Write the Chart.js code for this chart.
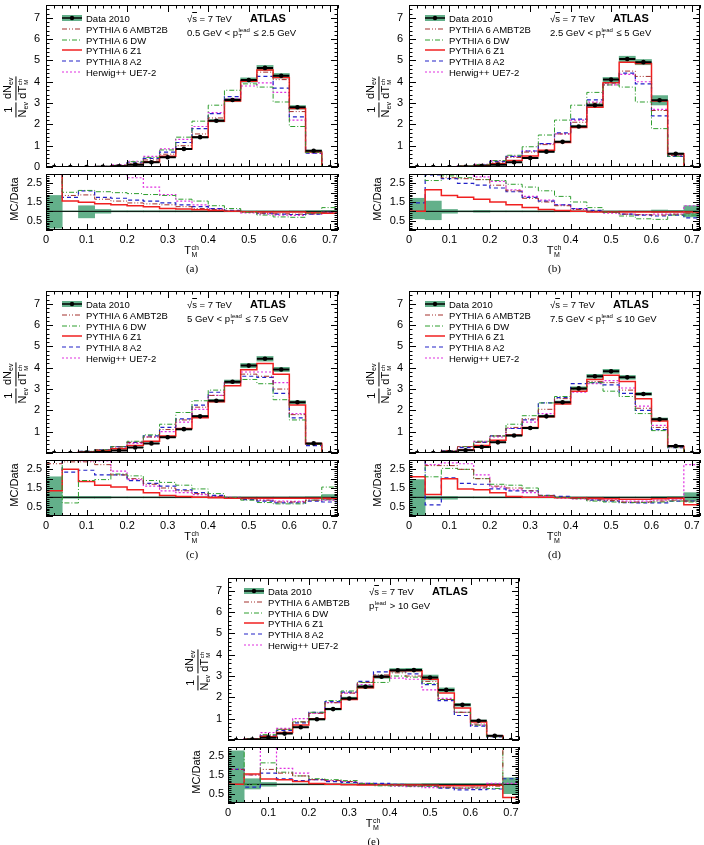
<!DOCTYPE html>
<html>
<head>
<meta charset="utf-8">
<script src="https://cdn.jsdelivr.net/npm/chart.js@4.4.1/dist/chart.umd.min.js"></script>
<style>
body { margin: 0; background: #fff; width: 704px; height: 845px; position: relative; overflow: hidden;
       font-family: "Liberation Sans", Arial, Helvetica, sans-serif; color: #000; }
canvas { position: absolute; }
.t { position: absolute; white-space: nowrap; line-height: 1; }
.leg { font-size: 9.5px; }
.leg svg { position: absolute; left: -24px; top: -1px; }
.ann { font-size: 9.5px; }
.atlas { font-size: 11px; font-weight: bold; }
.ss { display: inline-flex; flex-direction: column; vertical-align: middle; font-size: 6px; line-height: 1; margin: 0 1px 0 0.5px; }
.yt { font-size: 11px; display: flex; align-items: center; }
.fr { display: inline-flex; flex-direction: column; align-items: stretch; text-align: center; margin: 0 1px; }
.fr > span:first-child { border-bottom: 1px solid #000; padding: 0 1px 1px; }
.fr > span:last-child { padding-top: 1px; }
.sub { font-size: 7px; vertical-align: -2px; }
.xt { font-size: 11px; }
.pl { font-family: "Liberation Serif", "DejaVu Serif", serif; font-size: 11px; }
</style>
</head>
<body>
<script>
// bins of T_M^ch
const BIN_EDGES = [0, 0.04, 0.08, 0.12, 0.16, 0.2, 0.24, 0.28, 0.32, 0.36, 0.4, 0.44, 0.48, 0.52, 0.56, 0.6, 0.64, 0.68, 0.72];
const X_TICKS = [0, 0.1, 0.2, 0.3, 0.4, 0.5, 0.6, 0.7];
const MAIN_Y_TICKS = [0, 1, 2, 3, 4, 5, 6, 7];
const RATIO_Y_TICKS = [0.5, 1, 1.5, 2, 2.5];
const DATA_LABEL = 'Data 2010';
const MC_LABELS = ['PYTHIA 6 AMBT2B', 'PYTHIA 6 DW', 'PYTHIA 6 Z1', 'PYTHIA 8 A2', 'Herwig++ UE7-2'];
const PANEL_LABELS = ['(a)', '(b)', '(c)', '(d)', '(e)'];
const PT = 'p<span class="ss"><span>lead</span><span>T</span></span>';
const CUT_LABELS = [
  '0.5 GeV &lt; ' + PT + ' &le; 2.5 GeV',
  '2.5 GeV &lt; ' + PT + ' &le; 5 GeV',
  '5 GeV &lt; ' + PT + ' &le; 7.5 GeV',
  '7.5 GeV &lt; ' + PT + ' &le; 10 GeV',
  PT + ' &gt; 10 GeV'
];

// (a) 0.5 < pT lead <= 2.5 GeV
const dataA    = [0, 0, 0, 0.01, 0.03, 0.1, 0.22, 0.46, 0.85, 1.4, 2.17, 3.14, 4.08, 4.65, 4.28, 2.8, 0.76, 0];
const ambt2bA  = [0, 0, 0.01, 0.02, 0.06, 0.17, 0.33, 0.6, 1.0, 1.55, 2.3, 3.15, 4.05, 4.45, 4.1, 2.6, 0.7, 0];
const dwA      = [0, 0, 0.01, 0.03, 0.08, 0.25, 0.45, 0.8, 1.4, 2.15, 2.9, 3.6, 3.9, 3.75, 3.05, 1.9, 0.68, 0];
const z1A      = [0, 0, 0, 0.01, 0.04, 0.12, 0.25, 0.5, 0.85, 1.4, 2.15, 3.1, 4.02, 4.55, 4.2, 2.75, 0.7, 0];
const a2A      = [0, 0, 0.01, 0.02, 0.07, 0.2, 0.4, 0.7, 1.15, 1.8, 2.5, 3.3, 4.05, 4.25, 3.7, 2.35, 0.65, 0];
const herwigA  = [0, 0, 0.01, 0.03, 0.1, 0.27, 0.5, 0.85, 1.3, 1.9, 2.55, 3.2, 3.8, 3.95, 3.5, 2.2, 0.65, 0];
const rAmbt2bA = [4, 1.85, 1.88, 1.65, 1.55, 1.45, 1.4, 1.35, 1.25, 1.15, 1.1, 1.02, 0.97, 0.9, 0.87, 0.85, 0.87, 0.95];
const rDwA     = [4, 2.02, 2.12, 2.05, 2.0, 1.95, 1.9, 1.85, 1.65, 1.55, 1.3, 1.15, 0.95, 0.8, 0.7, 0.68, 0.9, 1.2];
const rZ1A     = [4, 1.55, 1.48, 1.4, 1.35, 1.3, 1.25, 1.15, 1.12, 1.08, 1.05, 1.0, 0.98, 0.97, 0.97, 0.97, 0.93, 0.9];
const rA2A     = [4, 1.75, 2.1, 1.75, 1.7, 1.6, 1.55, 1.45, 1.35, 1.25, 1.15, 1.05, 0.98, 0.9, 0.85, 0.83, 0.85, 0.95];
const rHerwigA = [4, 4, 4, 4, 4, 2.8, 2.3, 1.9, 1.55, 1.35, 1.15, 1.0, 0.92, 0.85, 0.8, 0.78, 0.85, 0.95];
const bandLoA  = [0.1, 0.98, 0.65, 0.9, 0.97, 0.97, 0.97, 0.97, 0.97, 0.975, 0.975, 0.975, 0.975, 0.975, 0.975, 0.97, 0.96, 0.95];
const bandHiA  = [1.85, 1.02, 1.3, 1.1, 1.03, 1.03, 1.03, 1.03, 1.03, 1.025, 1.025, 1.025, 1.025, 1.025, 1.025, 1.03, 1.04, 1.05];

// (b) 2.5 < pT lead <= 5 GeV
const dataB    = [0, 0, 0, 0.01, 0.04, 0.1, 0.22, 0.42, 0.72, 1.18, 1.9, 2.9, 4.1, 5.07, 4.92, 3.13, 0.62, 0];
const ambt2bB  = [0, 0, 0.01, 0.04, 0.09, 0.22, 0.45, 0.7, 1.05, 1.55, 2.1, 3.0, 3.95, 4.5, 4.25, 2.65, 0.55, 0];
const dwB      = [0, 0, 0.01, 0.05, 0.12, 0.3, 0.55, 0.95, 1.5, 2.2, 2.9, 3.5, 3.85, 3.75, 3.05, 1.8, 0.5, 0];
const z1B      = [0, 0, 0, 0.02, 0.06, 0.15, 0.3, 0.52, 0.78, 1.15, 1.85, 2.8, 3.95, 4.92, 4.85, 3.1, 0.62, 0];
const a2B      = [0, 0, 0.01, 0.04, 0.1, 0.25, 0.5, 0.75, 1.1, 1.6, 2.25, 3.15, 3.95, 4.4, 3.9, 2.4, 0.5, 0];
const herwigB  = [0, 0, 0.01, 0.04, 0.12, 0.3, 0.5, 0.75, 1.1, 1.55, 2.2, 3.05, 3.85, 4.35, 4.0, 2.7, 0.55, 0];
const rAmbt2bB = [4, 4, 2.8, 2.75, 2.7, 2.4, 2.1, 1.7, 1.5, 1.3, 1.1, 1.0, 0.95, 0.85, 0.82, 0.8, 0.85, 0.9];
const rDwB     = [4, 2.65, 2.9, 2.8, 2.7, 2.65, 2.45, 2.3, 2.1, 1.8, 1.5, 1.2, 0.95, 0.75, 0.6, 0.57, 0.8, 0.8];
const rZ1B     = [1.0, 2.15, 1.85, 1.75, 1.65, 1.5, 1.35, 1.2, 1.1, 1.05, 1.0, 0.97, 0.97, 0.97, 0.97, 0.97, 0.97, 0.97];
const rA2B     = [1.45, 2.95, 2.75, 2.5, 2.4, 2.25, 2.05, 1.75, 1.55, 1.35, 1.15, 1.05, 0.95, 0.85, 0.8, 0.75, 0.8, 0.65];
const rHerwigB = [4, 4, 4, 4, 2.85, 2.6, 2.15, 1.8, 1.6, 1.35, 1.15, 1.0, 0.9, 0.85, 0.82, 0.85, 0.85, 1.3];
const bandLoB  = [0.6, 0.55, 0.9, 0.97, 0.95, 0.97, 0.97, 0.97, 0.97, 0.975, 0.975, 0.975, 0.975, 0.975, 0.975, 0.93, 0.95, 0.7];
const bandHiB  = [1.7, 1.55, 1.1, 1.03, 1.05, 1.03, 1.03, 1.03, 1.03, 1.025, 1.025, 1.025, 1.025, 1.025, 1.025, 1.07, 1.05, 1.3];

// (c) 5 < pT lead <= 7.5 GeV
const dataC    = [0, 0, 0.02, 0.05, 0.12, 0.26, 0.45, 0.74, 1.12, 1.72, 2.45, 3.34, 4.1, 4.42, 3.92, 2.38, 0.45, 0];
const ambt2bC  = [0, 0.01, 0.07, 0.15, 0.28, 0.5, 0.75, 1.1, 1.55, 2.15, 2.7, 3.3, 3.7, 3.6, 3.0, 1.8, 0.4, 0];
const dwC      = [0, 0.01, 0.08, 0.15, 0.3, 0.55, 0.85, 1.35, 1.9, 2.45, 2.95, 3.35, 3.45, 3.25, 2.5, 1.55, 0.4, 0];
const z1C      = [0, 0.01, 0.05, 0.1, 0.2, 0.35, 0.55, 0.8, 1.15, 1.65, 2.4, 3.15, 3.9, 4.2, 3.7, 2.25, 0.45, 0];
const a2C      = [0, 0.01, 0.08, 0.15, 0.3, 0.5, 0.8, 1.2, 1.6, 2.25, 2.85, 3.35, 3.6, 3.55, 2.8, 1.65, 0.35, 0];
const herwigC  = [0, 0.01, 0.07, 0.12, 0.3, 0.45, 0.75, 1.0, 1.45, 2.05, 2.7, 3.3, 3.8, 3.8, 3.3, 1.85, 0.4, 0];
const rAmbt2bC = [2.8, 2.9, 2.9, 2.75, 2.2, 2.0, 1.7, 1.5, 1.35, 1.2, 1.05, 0.98, 0.92, 0.85, 0.75, 0.75, 0.85, 0.9];
const rDwC     = [4, 0.7, 1.9, 1.95, 2.25, 2.15, 1.9, 1.8, 1.65, 1.45, 1.2, 1.0, 0.85, 0.72, 0.65, 0.65, 0.85, 1.55];
const rZ1C     = [1.35, 2.5, 1.85, 1.65, 1.55, 1.4, 1.25, 1.1, 1.05, 1.0, 0.98, 0.95, 0.95, 0.95, 0.95, 0.95, 0.95, 0.95];
const rA2C     = [4, 2.35, 2.45, 2.2, 2.2, 1.9, 1.75, 1.6, 1.4, 1.25, 1.1, 0.98, 0.88, 0.8, 0.7, 0.7, 0.8, 0.75];
const rHerwigC = [4, 4, 2.95, 2.95, 2.4, 1.95, 1.6, 1.35, 1.25, 1.15, 1.05, 1.0, 0.92, 0.85, 0.8, 0.78, 0.85, 0.85];
const bandLoC  = [0.05, 0.95, 0.95, 0.95, 0.97, 0.97, 0.97, 0.97, 0.97, 0.975, 0.975, 0.975, 0.975, 0.975, 0.975, 0.97, 0.96, 0.85];
const bandHiC  = [2.1, 1.05, 1.05, 1.05, 1.03, 1.03, 1.03, 1.03, 1.03, 1.025, 1.025, 1.025, 1.025, 1.025, 1.025, 1.03, 1.04, 1.15];

// (d) 7.5 < pT lead <= 10 GeV
const dataD    = [0, 0, 0.05, 0.13, 0.28, 0.5, 0.82, 1.17, 1.72, 2.38, 3.03, 3.6, 3.83, 3.55, 2.77, 1.58, 0.33, 0];
const ambt2bD  = [0, 0.02, 0.12, 0.3, 0.5, 0.8, 1.2, 1.6, 2.05, 2.55, 3.0, 3.35, 3.3, 2.95, 2.1, 1.2, 0.3, 0];
const dwD      = [0, 0.02, 0.1, 0.3, 0.55, 0.8, 1.35, 1.75, 2.35, 2.65, 3.05, 3.3, 2.9, 2.65, 1.85, 1.05, 0.25, 0];
const z1D      = [0, 0.01, 0.05, 0.15, 0.35, 0.6, 0.85, 1.2, 1.7, 2.3, 2.9, 3.45, 3.65, 3.35, 2.55, 1.5, 0.3, 0];
const a2D      = [0, 0.01, 0.1, 0.25, 0.5, 0.8, 1.15, 1.55, 2.35, 2.6, 3.25, 3.3, 3.2, 2.8, 2.0, 1.1, 0.25, 0];
const herwigD  = [0, 0.02, 0.1, 0.3, 0.55, 0.75, 1.15, 1.45, 1.85, 2.4, 2.85, 3.25, 3.4, 3.05, 2.2, 1.3, 0.3, 0];
const rAmbt2bD = [4, 2.7, 2.7, 2.5, 2.0, 1.6, 1.5, 1.35, 1.1, 1.0, 0.93, 0.87, 0.83, 0.75, 0.75, 0.8, 0.85, 0.8];
const rDwD     = [4, 2.1, 2.55, 2.5, 2.0, 1.7, 1.65, 1.5, 1.1, 1.0, 0.93, 0.8, 0.75, 0.72, 0.72, 0.75, 0.8, 0.75];
const rZ1D     = [2.1, 1.15, 2.0, 1.45, 1.4, 1.25, 1.05, 1.0, 1.0, 0.98, 0.97, 0.95, 0.93, 0.9, 0.9, 0.93, 0.95, 0.6];
const rA2D     = [4, 0.6, 2.05, 1.75, 1.7, 1.45, 1.35, 1.35, 1.1, 1.05, 0.95, 0.85, 0.8, 0.72, 0.7, 0.7, 0.8, 0.8];
const rHerwigD = [4, 2.75, 2.85, 2.8, 2.2, 1.55, 1.4, 1.25, 1.05, 0.95, 0.92, 0.9, 0.87, 0.8, 0.8, 0.85, 0.9, 2.75];
const bandLoD  = [0.05, 0.9, 0.9, 0.97, 0.97, 0.97, 0.97, 0.97, 0.97, 0.975, 0.975, 0.975, 0.975, 0.975, 0.975, 0.96, 0.95, 0.8];
const bandHiD  = [1.95, 1.05, 1.05, 1.03, 1.03, 1.03, 1.03, 1.03, 1.03, 1.025, 1.025, 1.025, 1.025, 1.025, 1.025, 1.04, 1.05, 1.25];

// (e) pT lead > 10 GeV
const dataE    = [0, 0.02, 0.11, 0.3, 0.6, 0.97, 1.45, 1.95, 2.5, 2.97, 3.27, 3.28, 2.93, 2.35, 1.65, 0.9, 0.2, 0];
const ambt2bE  = [0, 0.05, 0.2, 0.5, 0.85, 1.25, 1.75, 2.2, 2.7, 3.05, 3.15, 3.0, 2.75, 1.9, 1.3, 0.75, 0.2, 0];
const dwE      = [0, 0.05, 0.25, 0.5, 0.85, 1.3, 1.85, 2.3, 2.7, 2.7, 3.0, 2.95, 2.65, 1.9, 1.3, 0.7, 0.15, 0];
const z1E      = [0, 0.03, 0.15, 0.35, 0.7, 1.0, 1.45, 1.9, 2.45, 2.95, 3.25, 3.25, 2.85, 2.2, 1.5, 0.85, 0.2, 0];
const a2E      = [0, 0.05, 0.2, 0.45, 0.8, 1.3, 1.8, 2.25, 2.75, 3.2, 3.25, 3.1, 2.6, 1.85, 1.15, 0.65, 0.15, 0];
const herwigE  = [0, 0.05, 0.35, 0.55, 1.0, 1.25, 1.75, 2.2, 2.6, 3.0, 2.9, 2.85, 2.35, 1.95, 1.3, 0.7, 0.2, 0];
const rAmbt2bE = [1.8, 1.5, 1.8, 1.6, 1.45, 1.25, 1.2, 1.15, 1.0, 0.98, 0.95, 0.92, 0.92, 0.85, 0.8, 0.85, 0.9, 4];
const rDwE     = [4, 1.0, 2.15, 1.65, 1.45, 1.3, 1.25, 1.2, 1.05, 0.92, 0.92, 0.9, 0.9, 0.82, 0.8, 0.8, 0.78, 4];
const rZ1E     = [1.0, 1.55, 1.28, 1.25, 1.15, 1.05, 1.0, 0.98, 0.97, 0.97, 0.97, 0.97, 0.95, 0.93, 0.92, 0.93, 0.95, 0.3];
const rA2E     = [1.8, 0.85, 1.6, 1.3, 1.2, 1.25, 1.15, 1.1, 1.05, 1.05, 1.0, 0.93, 0.9, 0.8, 0.7, 0.72, 0.75, 1.3];
const rHerwigE = [1.8, 1.5, 4, 1.85, 1.6, 1.25, 1.2, 1.15, 1.05, 1.0, 0.9, 0.88, 0.82, 0.82, 0.78, 0.8, 1.05, 1.05];
const bandLoE  = [0.0, 0.75, 0.9, 0.97, 0.97, 0.97, 0.97, 0.97, 0.97, 0.975, 0.975, 0.975, 0.96, 0.96, 0.96, 0.96, 0.95, 0.5];
const bandHiE  = [2.8, 1.3, 1.1, 1.03, 1.03, 1.03, 1.03, 1.03, 1.03, 1.025, 1.025, 1.025, 1.04, 1.04, 1.04, 1.04, 1.05, 1.35];

// line styles, same order as MC_LABELS
const MC_STYLES = [
  { color: '#a3302c', dash: [5, 2, 1, 2, 1, 2], width: 1 },
  { color: '#2f9e2f', dash: [5, 2, 1, 2], width: 1 },
  { color: '#f02020', dash: [], width: 1.5 },
  { color: '#2222c8', dash: [4, 3], width: 1.2 },
  { color: '#e030e0', dash: [2, 2], width: 1.2 }
];
const BAND_COLOR = '#63b08a';
const FONT = '"Liberation Sans", Arial, Helvetica, sans-serif';

const PANELS = [
  { left: 46,  top: 5,   w: 292, zero: true,  data: dataA, lo: bandLoA, hi: bandHiA,
    mc: [ambt2bA, dwA, z1A, a2A, herwigA], ratio: [rAmbt2bA, rDwA, rZ1A, rA2A, rHerwigA] },
  { left: 409, top: 5,   w: 291, zero: false, data: dataB, lo: bandLoB, hi: bandHiB,
    mc: [ambt2bB, dwB, z1B, a2B, herwigB], ratio: [rAmbt2bB, rDwB, rZ1B, rA2B, rHerwigB] },
  { left: 46,  top: 291, w: 292, zero: false, data: dataC, lo: bandLoC, hi: bandHiC,
    mc: [ambt2bC, dwC, z1C, a2C, herwigC], ratio: [rAmbt2bC, rDwC, rZ1C, rA2C, rHerwigC] },
  { left: 409, top: 291, w: 291, zero: false, data: dataD, lo: bandLoD, hi: bandHiD,
    mc: [ambt2bD, dwD, z1D, a2D, herwigD], ratio: [rAmbt2bD, rDwD, rZ1D, rA2D, rHerwigD] },
  { left: 228, top: 578, w: 291, zero: false, data: dataE, lo: bandLoE, hi: bandHiE,
    mc: [ambt2bE, dwE, z1E, a2E, herwigE], ratio: [rAmbt2bE, rDwE, rZ1E, rA2E, rHerwigE] }
];
const MAIN_H = 162, GAP = 7, RATIO_H = 56, AXW = 40, XLAB_H = 18;

// ROOT-like frame with inner tick marks on all four sides
const framePlugin = {
  id: 'frame',
  afterDraw(chart, args, opts) {
    const { ctx, chartArea: a, scales: { x, y } } = chart;
    ctx.save();
    ctx.strokeStyle = '#000';
    ctx.lineWidth = 1;
    ctx.beginPath();
    for (let k = 0; k <= 36; k++) {
      const px = Math.round(x.getPixelForValue(k * 0.02)) + 0.5;
      const len = k % 5 === 0 ? opts.xMajor : opts.xMajor / 2;
      ctx.moveTo(px, a.bottom); ctx.lineTo(px, a.bottom - len);
      ctx.moveTo(px, a.top); ctx.lineTo(px, a.top + len);
    }
    for (let k = 0; k * opts.yMinor <= y.max + 1e-9; k++) {
      const py = Math.round(y.getPixelForValue(k * opts.yMinor)) + 0.5;
      const len = k % opts.yEvery === 0 ? 7 : 3.5;
      ctx.moveTo(a.left, py); ctx.lineTo(a.left + len, py);
      ctx.moveTo(a.right, py); ctx.lineTo(a.right - len, py);
    }
    ctx.stroke();
    ctx.strokeRect(Math.round(a.left) + 0.5, Math.round(a.top) + 0.5,
                   Math.round(a.right - a.left) - 1, Math.round(a.bottom - a.top) - 1);
    ctx.restore();
  }
};

function histPoints(vals) {
  return BIN_EDGES.map((e, i) => ({ x: e, y: vals[Math.min(i, vals.length - 1)] }));
}
function centers() {
  return BIN_EDGES.slice(0, -1).map((e, i) => (e + BIN_EDGES[i + 1]) / 2);
}

function mcDatasets(series) {
  return series.map((vals, i) => ({
    type: 'line', label: MC_LABELS[i], data: histPoints(vals), stepped: true,
    borderColor: MC_STYLES[i].color, borderDash: MC_STYLES[i].dash, borderWidth: MC_STYLES[i].width,
    pointRadius: 0, fill: false, tension: 0
  }));
}

// scales get a fixed size and no label overhang padding, so plot areas line up exactly
function scaleX(showLabels, h) {
  return {
    type: 'linear', min: 0, max: 0.72, offset: false, display: true,
    afterBuildTicks: s => { s.ticks = X_TICKS.map(v => ({ value: v })); },
    afterFit: s => { s.height = h; s.paddingLeft = 0; s.paddingRight = 0; },
    grid: { display: false, drawTicks: false }, border: { display: false },
    ticks: { display: showLabels, padding: 3, autoSkip: false, maxRotation: 0, color: '#000',
             font: { family: FONT, size: 11 }, callback: v => String(v) }
  };
}
function scaleY(min, max, ticks, pad) {
  return {
    type: 'linear', min: min, max: max,
    afterBuildTicks: s => { s.ticks = ticks.map(v => ({ value: v })); },
    afterFit: s => { s.width = AXW; s.paddingTop = 0; s.paddingBottom = 0; },
    grid: { display: false, drawTicks: false }, border: { display: false },
    ticks: { padding: pad, color: '#000', font: { family: FONT, size: 11 }, callback: v => String(v) }
  };
}

function makeCanvas(x, y, w, h) {
  const c = document.createElement('canvas');
  c.width = w; c.height = h;
  c.style.left = x + 'px'; c.style.top = y + 'px';
  c.style.width = w + 'px'; c.style.height = h + 'px';
  document.body.appendChild(c);
  return c;
}
function addText(html, x, y, cls, anchor) {
  const d = document.createElement('div');
  d.className = 't ' + cls;
  d.innerHTML = html;
  d.style.left = x + 'px';
  d.style.top = y + 'px';
  if (anchor) d.style.transform = anchor;
  document.body.appendChild(d);
  return d;
}

function commonOptions(pad) {
  return {
    responsive: false, maintainAspectRatio: false, animation: false, devicePixelRatio: 1, events: [],
    layout: { padding: pad, autoPadding: false },
    plugins: { legend: { display: false }, title: { display: false }, tooltip: { enabled: false } }
  };
}

function drawPanel(P, idx) {
  const mids = centers();
  const W = P.w + AXW + 3;

  // ---- main distribution ----
  const dataSegs = [];
  P.data.forEach((v, i) => {
    dataSegs.push({ x: BIN_EDGES[i], y: v }, { x: BIN_EDGES[i + 1], y: v }, { x: BIN_EDGES[i + 1], y: null });
  });
  const mainCanvas = makeCanvas(P.left - AXW, P.top - 3, W, MAIN_H + 6);
  const mainOpts = commonOptions({ top: 3, right: 3, bottom: 3, left: 0 });
  mainOpts.scales = {
    x: scaleX(false, 0),
    y: scaleY(0, 7.6, P.zero ? MAIN_Y_TICKS : MAIN_Y_TICKS.slice(1), 6)
  };
  mainOpts.plugins.frame = { xMajor: 7, yMinor: 0.2, yEvery: 5 };
  new Chart(mainCanvas, {
    type: 'line',
    data: {
      datasets: [
        { type: 'line', label: DATA_LABEL, data: mids.map((m, i) => ({ x: m, y: P.data[i] })),
          showLine: false, pointRadius: 2.3, pointBackgroundColor: '#000', pointBorderWidth: 0 },
        { type: 'line', data: dataSegs, borderColor: '#000', borderWidth: 2, pointRadius: 0, spanGaps: false },
        ...mcDatasets(P.mc),
        { type: 'bar', data: mids.map((m, i) => ({ x: m, y: [P.data[i] * P.lo[i], P.data[i] * P.hi[i]] })),
          backgroundColor: BAND_COLOR, borderWidth: 0, barPercentage: 1, categoryPercentage: 1 }
      ]
    },
    options: mainOpts,
    plugins: [framePlugin]
  });

  // ---- MC / Data ratio ----
  const rTop = P.top + MAIN_H + GAP;
  const ratioCanvas = makeCanvas(P.left - AXW, rTop - 3, W, RATIO_H + 3 + XLAB_H);
  const ratioOpts = commonOptions({ top: 3, right: 3, bottom: 0, left: 0 });
  ratioOpts.scales = { x: scaleX(true, XLAB_H), y: scaleY(0, 3, RATIO_Y_TICKS, 4) };
  ratioOpts.plugins.frame = { xMajor: 6, yMinor: 0.1, yEvery: 5 };
  new Chart(ratioCanvas, {
    type: 'line',
    data: {
      datasets: [
        ...mcDatasets(P.ratio),
        { type: 'line', data: [{ x: 0, y: 1 }, { x: 0.72, y: 1 }], borderColor: '#000', borderWidth: 1, pointRadius: 0 },
        { type: 'bar', data: mids.map((m, i) => ({ x: m, y: [P.lo[i], P.hi[i]] })),
          backgroundColor: BAND_COLOR, borderWidth: 0, barPercentage: 1, categoryPercentage: 1 }
      ]
    },
    options: ratioOpts,
    plugins: [framePlugin]
  });

  // ---- texts ----
  const rBottom = rTop + RATIO_H;
  const cx = P.left + P.w / 2;
  addText('<span class="fr"><span>1</span><span>N<span class="sub">ev</span></span></span>' +
          '<span class="fr"><span>dN<span class="sub">ev</span></span>' +
          '<span>dT<span class="ss"><span>ch</span><span>M</span></span></span></span>',
          P.left - 30, P.top + 92, 'yt', 'translate(-50%,-50%) rotate(-90deg)');
  addText('MC/Data', P.left - 32, rTop + 25, 'xt', 'translate(-50%,-50%) rotate(-90deg)');
  addText('T<span class="ss" style="font-size:7px"><span>ch</span><span>M</span></span>',
          cx, rBottom + 21, 'xt', 'translate(-50%,-50%)');
  addText(PANEL_LABELS[idx], cx, rBottom + 38, 'pl', 'translate(-50%,-50%)');

  // legend
  const lx = P.left + 40;
  const entries = [DATA_LABEL].concat(MC_LABELS);
  entries.forEach((lab, i) => {
    let svg;
    if (i === 0) {
      svg = '<svg width="20" height="10"><rect x="0" y="2" width="20" height="6" fill="' + BAND_COLOR + '"/>' +
            '<line x1="0" y1="5" x2="20" y2="5" stroke="#000" stroke-width="1.5"/>' +
            '<circle cx="10" cy="5" r="2.2" fill="#000"/></svg>';
    } else {
      const s = MC_STYLES[i - 1];
      svg = '<svg width="20" height="10"><line x1="0" y1="5" x2="20" y2="5" stroke="' + s.color +
            '" stroke-width="' + s.width + '" stroke-dasharray="' + s.dash.join(',') + '"/></svg>';
    }
    addText(svg + lab, lx, P.top + 14 + i * 10.8 - 5, 'leg');
  });

  // annotations
  addText('&radic;<span style="text-decoration:overline">s</span> = 7 TeV', P.left + 141, P.top + 14 - 5, 'ann');
  addText('ATLAS', P.left + 204, P.top + 14 - 6, 'atlas');
  addText(CUT_LABELS[idx], P.left + 141, P.top + 27 - 5, 'ann');
}

PANELS.forEach(drawPanel);
</script>
</body>
</html>
